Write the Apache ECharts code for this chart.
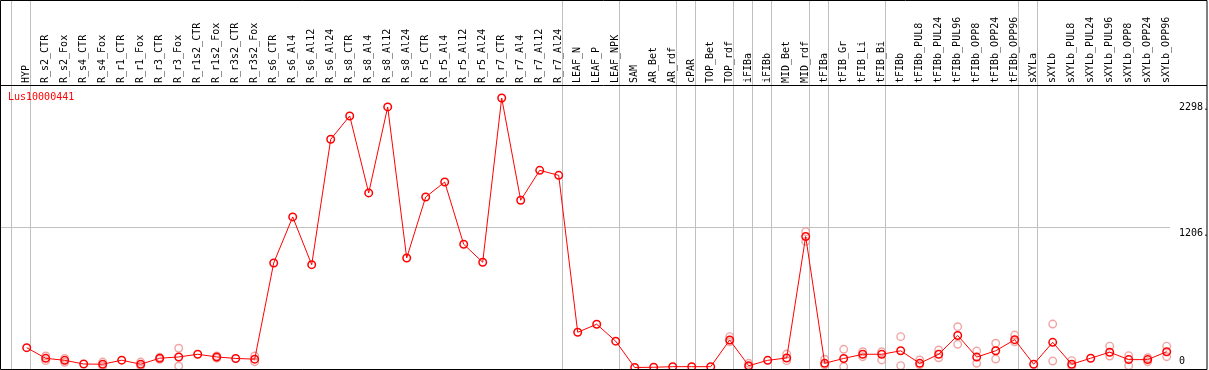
<!DOCTYPE html>
<html>
<head>
<meta charset="utf-8">
<script src="https://cdn.jsdelivr.net/npm/echarts@6/dist/echarts.min.js"></script>
<style>
  html, body { margin: 0; padding: 0; background: #fff; }
  #chart { width: 1209px; height: 370px; }
</style>
</head>
<body>
<div id="chart"></div>
<script>
const categories = [
    'HYP', 'R_s2_CTR', 'R_s2_Fox', 'R_s4_CTR', 'R_s4_Fox', 'R_r1_CTR', 'R_r1_Fox', 'R_r3_CTR', 'R_r3_Fox',
    'R_r1s2_CTR', 'R_r1s2_Fox', 'R_r3s2_CTR', 'R_r3s2_Fox', 'R_s6_CTR', 'R_s6_Al4', 'R_s6_Al12', 'R_s6_Al24',
    'R_s8_CTR', 'R_s8_Al4', 'R_s8_Al12', 'R_s8_Al24', 'R_r5_CTR', 'R_r5_Al4', 'R_r5_Al12', 'R_r5_Al24',
    'R_r7_CTR', 'R_r7_Al4', 'R_r7_Al12', 'R_r7_Al24', 'LEAF_N', 'LEAF_P', 'LEAF_NPK', 'SAM', 'AR_Bet', 'AR_rdf',
    'cPAR', 'TOP_Bet', 'TOP_rdf', 'iFIBa', 'iFIBb', 'MID_Bet', 'MID_rdf', 'tFIBa', 'tFIB_Gr', 'tFIB_Li', 'tFIB_Bi',
    'tFIBb', 'tFIBb_PUL8', 'tFIBb_PUL24', 'tFIBb_PUL96', 'tFIBb_OPP8', 'tFIBb_OPP24', 'tFIBb_OPP96',
    'sXYLa', 'sXYLb', 'sXYLb_PUL8', 'sXYLb_PUL24', 'sXYLb_PUL96', 'sXYLb_OPP8', 'sXYLb_OPP24', 'sXYLb_OPP96'
];

// mean expression per sample
const meanValues = [
    171, 79, 62, 30, 28, 63, 28, 80, 91, 114, 91, 78, 72,
    902, 1299, 887, 1969, 2170, 1506, 2248, 945, 1471, 1600, 1063, 908, 2325, 1443, 1701, 1658,
    304, 373, 227, 0, 2, 7, 7, 7, 237, 15, 62, 82, 1130,
    36, 78, 114, 114, 144, 36, 114, 276, 90, 144, 240,
    28, 217, 28, 80, 132, 68, 68, 136
];

// single replicates (light circles)
const repCats = [
    'R_s2_CTR', 'R_s2_CTR', 'R_s2_Fox', 'R_s2_Fox', 'R_s4_Fox', 'R_s4_Fox', 'R_r1_Fox', 'R_r1_Fox',
    'R_r3_CTR', 'R_r3_CTR', 'R_r3_Fox', 'R_r3_Fox', 'R_r1s2_Fox', 'R_r1s2_Fox', 'R_r3s2_Fox', 'R_r3s2_Fox',
    'TOP_rdf', 'TOP_rdf', 'iFIBa', 'iFIBa', 'MID_Bet', 'MID_Bet', 'MID_rdf', 'MID_rdf',
    'tFIBa', 'tFIBa', 'tFIB_Gr', 'tFIB_Gr', 'tFIB_Li', 'tFIB_Li', 'tFIB_Bi', 'tFIB_Bi', 'tFIBb', 'tFIBb',
    'tFIBb_PUL8', 'tFIBb_PUL8', 'tFIBb_PUL24', 'tFIBb_PUL24', 'tFIBb_PUL96', 'tFIBb_PUL96',
    'tFIBb_OPP8', 'tFIBb_OPP8', 'tFIBb_OPP24', 'tFIBb_OPP24', 'tFIBb_OPP96', 'tFIBb_OPP96',
    'sXYLb', 'sXYLb', 'sXYLb_PUL8', 'sXYLb_PUL8', 'sXYLb_PUL96', 'sXYLb_PUL96',
    'sXYLb_OPP8', 'sXYLb_OPP8', 'sXYLb_OPP24', 'sXYLb_OPP24', 'sXYLb_OPP96', 'sXYLb_OPP96'
];
const repValues = [
    99, 59, 79, 45, 47, 13, 47, 13,
    88, 70, 166, 13, 99, 80, 99, 50,
    266, 222, 36, 7, 116, 59, 1172, 1088,
    71, 22, 157, 7, 136, 93, 136, 65, 266, 16,
    65, 22, 151, 84, 352, 200,
    142, 36, 209, 73, 280, 222,
    375, 56, 59, 13, 184, 99,
    102, 16, 84, 50, 184, 93
];

// group separators sit just after these samples (-1 = before the first)
const groupEnds = [-1, 0, 28, 31, 34, 35, 37, 38, 39, 41, 42, 45, 52, 53, 60];
const yTicks = [0, 1206, 2298];
const geneName = 'Lus10000441';

const mono = 'DejaVu Sans Mono';
const red = '#ff0000';
const pink = '#ec8f8f';
const grey = '#c0c0c0';

const chart = echarts.init(document.getElementById('chart'));

const lineData = meanValues.map((v, i) => [i, v]);
const repData = repValues.map((v, i) => [categories.indexOf(repCats[i]), v]);
const vLines = groupEnds.map(i => ({ xAxis: i + 0.18 }));

const option = {
    animation: false,
    backgroundColor: '#fff',
    title: {
        text: geneName,
        left: 8,
        top: 92,
        padding: 0,
        textStyle: { color: red, fontFamily: mono, fontSize: 10, fontWeight: 'normal' }
    },
    grid: { left: 1, right: 39, top: 1, bottom: 1, outerBoundsMode: 'none' },
    xAxis: {
        type: 'value',
        position: 'top',
        offset: -84,
        min: -1.353,
        max: 60.174,
        axisLine: { show: false },
        axisTick: { show: false },
        splitLine: { show: false },
        axisLabel: {
            customValues: categories.map((c, i) => i),
            formatter: v => categories[v] || '',
            rotate: 90,
            margin: 2,
            color: '#000',
            fontFamily: mono,
            fontSize: 10
        }
    },
    yAxis: {
        type: 'value',
        position: 'right',
        min: -13,
        max: 3162,
        axisLine: { show: false },
        axisTick: { show: false },
        splitLine: { show: false },
        axisLabel: {
            customValues: yTicks,
            formatter: v => (v === 0 ? '0\n' : '\n' + v + '.'),
            align: 'left',
            margin: 9,
            lineHeight: 12,
            color: '#000',
            fontFamily: mono,
            fontSize: 10
        }
    },
    graphic: [
        {
            type: 'rect',
            shape: { x: 0.5, y: 0.5, width: 1206.5, height: 369 },
            style: { fill: null, stroke: '#000', lineWidth: 1 },
            silent: true,
            z: 100
        },
        {
            type: 'line',
            shape: { x1: 0, y1: 85.5, x2: 1207, y2: 85.5 },
            style: { stroke: '#000', lineWidth: 1 },
            silent: true,
            z: 100
        }
    ],
    series: [
        {
            type: 'scatter',
            data: repData,
            symbol: 'circle',
            symbolSize: 7.5,
            itemStyle: { color: 'transparent', borderColor: pink, borderWidth: 1.4 },
            silent: true,
            z: 2
        },
        {
            type: 'line',
            data: lineData,
            symbol: 'circle',
            symbolSize: 7.5,
            lineStyle: { color: red, width: 1 },
            itemStyle: { color: 'transparent', borderColor: red, borderWidth: 1.5 },
            z: 3,
            markLine: {
                silent: true,
                symbol: 'none',
                label: { show: false },
                lineStyle: { color: grey, width: 1, type: 'solid' },
                z: 1,
                data: vLines.concat([[{ coord: [-1.353, 1206] }, { coord: [60.174, 1206] }]])
            }
        }
    ]
};

chart.setOption(option);
</script>
</body>
</html>
